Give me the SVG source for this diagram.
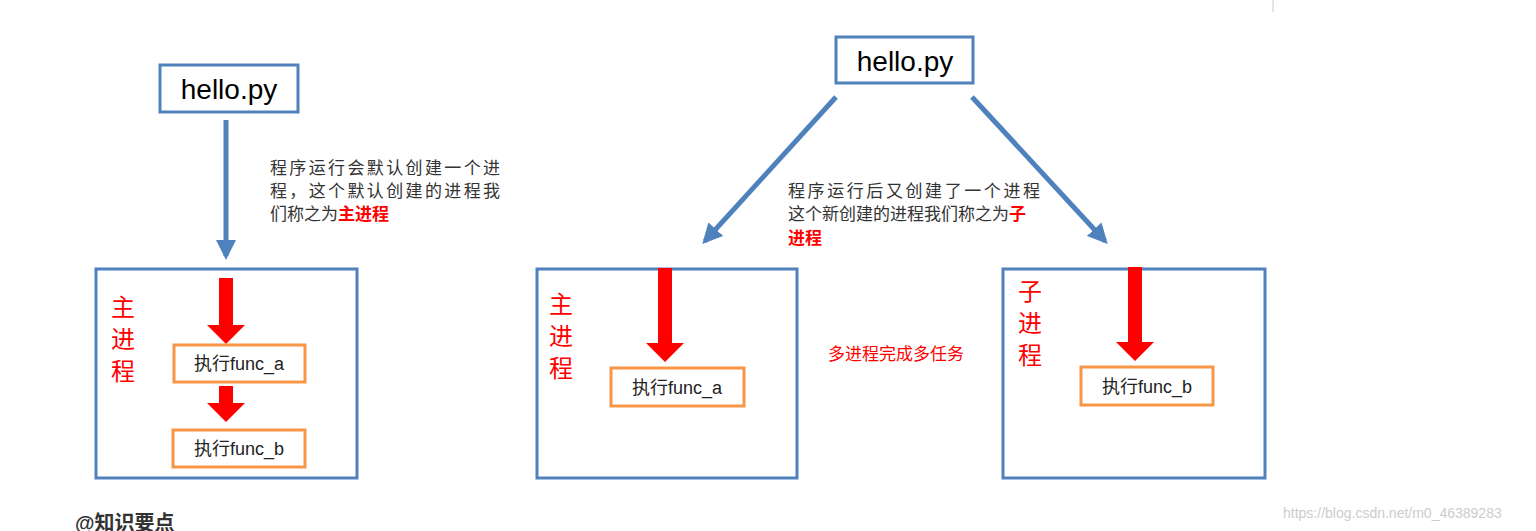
<svg xmlns="http://www.w3.org/2000/svg" width="1536" height="531" viewBox="0 0 1536 531">
<style>
.blue{fill:#fff;stroke:#4f81bd;stroke-width:3}
.or{fill:#fff;stroke:#f79646;stroke-width:3}
.hp{font-family:"Liberation Sans","Noto Sans CJK SC",sans-serif;font-size:28px;fill:#000}
.fn{font-family:"Liberation Sans","Noto Sans CJK SC",sans-serif;font-size:18px;fill:#222}
.note{font-family:"Liberation Sans","Noto Sans CJK SC",sans-serif;font-size:17px;fill:#333}
.hl{fill:#f00;font-weight:bold}
.vt{font-family:"Noto Sans CJK SC",serif;font-size:24px;fill:#f00}
.conn{stroke:#4f81bd;stroke-width:5;fill:none}
.red{fill:#f00}
</style>
<defs>
<marker id="bh" viewBox="0 0 10 10" refX="8" refY="5" markerWidth="4" markerHeight="4" orient="auto" markerUnits="strokeWidth"><path d="M0,0L10,5L0,10z" fill="#4f81bd"/></marker>
</defs>
<line x1="1273" y1="0" x2="1273" y2="12" stroke="#ccc"/>
<g id="connectors">
<line class="conn" x1="226" y1="120" x2="226" y2="256" marker-end="url(#bh)"/>
<line class="conn" x1="836" y1="97" x2="705" y2="241" marker-end="url(#bh)"/>
<line class="conn" x1="972" y1="97" x2="1105" y2="241" marker-end="url(#bh)"/>
</g>
<g id="hello-left"><rect class="blue" x="160" y="65" width="138" height="47"/><text class="hp" x="229" y="99" text-anchor="middle">hello.py</text></g>
<g id="note-left"><text class="note" x="270" y="174" textLength="230">程序运行会默认创建一个进</text><text class="note" x="270" y="197" textLength="230">程，这个默认创建的进程我</text><text class="note" x="270" y="220">们称之为<tspan class="hl">主进程</tspan></text></g>
<g id="main-left"><rect class="blue" x="96" y="269" width="261" height="209"/>
<text class="vt" x="111" y="316">主</text><text class="vt" x="111" y="348">进</text><text class="vt" x="111" y="380">程</text>
<path class="red" d="M219,278h14v47h12l-19,19l-19,-19h12z"/>
<path class="red" d="M219,386h14v17h12l-19,19l-19,-19h12z"/>
</g>
<g id="func-a-left"><rect class="or" x="174" y="345" width="131" height="37"/><text class="fn" x="239" y="370" text-anchor="middle">执行func_a</text></g>
<g id="func-b-left"><rect class="or" x="173" y="430" width="132" height="37"/><text class="fn" x="239" y="455" text-anchor="middle">执行func_b</text></g>
<g id="hello-right"><rect class="blue" x="836" y="37" width="137" height="46"/><text class="hp" x="905" y="71" text-anchor="middle">hello.py</text></g>
<g id="note-right"><text class="note" x="788" y="197" textLength="252">程序运行后又创建了一个进程</text><text class="note" x="788" y="220">这个新创建的进程我们称之为<tspan class="hl">子</tspan></text><text class="note hl" x="788" y="244">进程</text></g>
<g id="main-right"><rect class="blue" x="537" y="269" width="260" height="209"/>
<text class="vt" x="549" y="313">主</text><text class="vt" x="549" y="345">进</text><text class="vt" x="549" y="377">程</text>
<path class="red" d="M658,268h14v75h12l-19,19l-19,-19h12z"/>
</g>
<g id="func-a-right"><rect class="or" x="611" y="368" width="133" height="38"/><text class="fn" x="677" y="394" text-anchor="middle">执行func_a</text></g>
<text x="828" y="360" font-family="Liberation Sans,Noto Sans CJK SC,sans-serif" font-size="17" fill="#f00">多进程完成多任务</text>
<g id="child"><rect class="blue" x="1003" y="269" width="262" height="209"/>
<text class="vt" x="1018" y="300">子</text><text class="vt" x="1018" y="332">进</text><text class="vt" x="1018" y="364">程</text>
<path class="red" d="M1128,267h14v75h12l-19,19l-19,-19h12z"/>
</g>
<g id="func-b-right"><rect class="or" x="1081" y="367" width="132" height="38"/><text class="fn" x="1147" y="393" text-anchor="middle">执行func_b</text></g>
<text x="75" y="530" font-family="Liberation Sans,Noto Sans CJK SC,sans-serif" font-size="20" font-weight="bold" fill="#333">@知识要点</text>
<text x="1283" y="518" font-family="Liberation Sans,Noto Sans CJK SC,sans-serif" font-size="14" fill="#ccc">https://blog.csdn.net/m0_46389283</text>
</svg>
